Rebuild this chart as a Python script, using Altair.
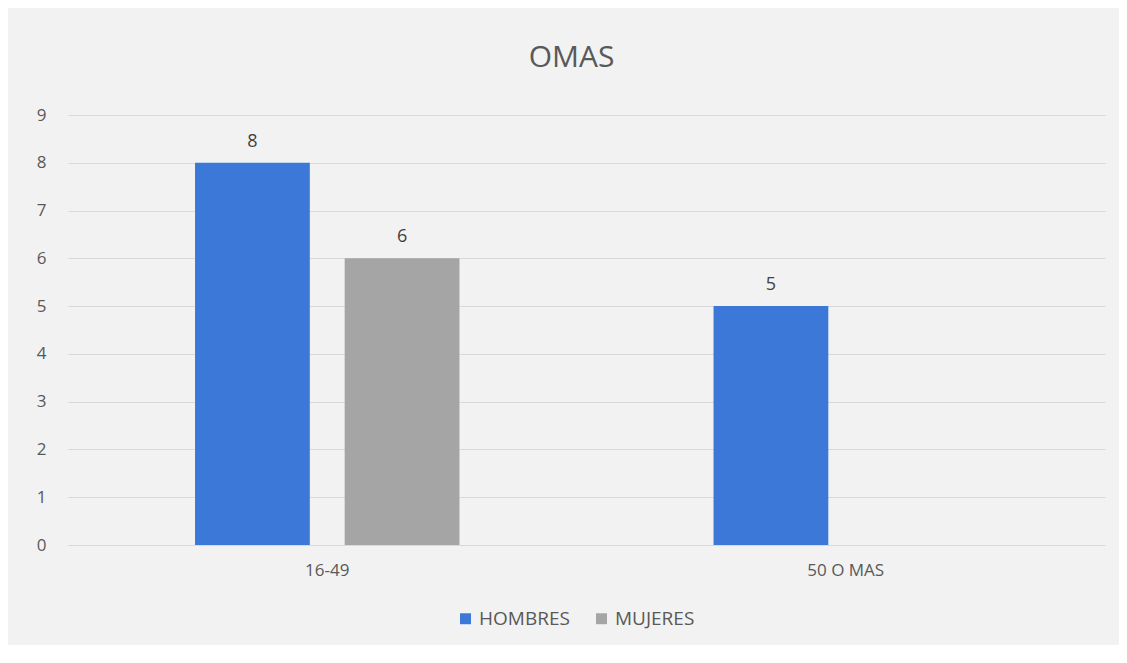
import altair as alt
import pandas as pd

categories = ["16-49", "16-49", "50 O MAS"]
series = ["HOMBRES", "MUJERES", "HOMBRES"]
values = [8, 6, 5]

df = pd.DataFrame({"grupo": categories, "sexo": series, "valor": values})

font = "Open Sans"
x = alt.X("grupo:N", title=None, sort=["16-49", "50 O MAS"],
          scale=alt.Scale(paddingInner=0.49, paddingOuter=0.245),
          axis=alt.Axis(labelAngle=0, labelFontSize=17, labelColor="#595959",
                        labelFont=font, ticks=False, domain=False, labelPadding=17))
xo = alt.XOffset("sexo:N", sort=["HOMBRES", "MUJERES"],
                 scale=alt.Scale(domain=["HOMBRES", "MUJERES"], paddingInner=0.233, paddingOuter=0))
y = alt.Y("valor:Q", title=None,
          scale=alt.Scale(domain=[0, 9]),
          axis=alt.Axis(values=list(range(10)), labelFontSize=17, labelColor="#595959",
                        labelFont=font, ticks=False, domain=False, labelPadding=22,
                        gridColor="#d9d9d9", gridWidth=1))
color = alt.Color("sexo:N", title=None,
                  scale=alt.Scale(domain=["HOMBRES", "MUJERES"], range=["#3b78d8", "#a5a5a5"]),
                  legend=alt.Legend(orient="none", legendX=388, legendY=494, direction="horizontal",
                                    symbolType="square", symbolSize=120, labelFontSize=19,
                                    labelFont=font, labelColor="#595959", columnPadding=22,
                                    symbolStrokeWidth=0))

bars = alt.Chart(df).mark_bar().encode(x=x, xOffset=xo, y=y, color=color)
labels = alt.Chart(df).mark_text(dy=-12, baseline="bottom", fontSize=18, font=font,
                                 color="#404040").encode(x=x, xOffset=xo, y=y, text="valor:Q")

chart = (bars + labels).properties(
    width=1037, height=430,
    autosize=alt.AutoSizeParams(type="none"),
    padding={"left": 60, "top": 107, "right": 14, "bottom": 100},
    background="#f2f2f2",
    title=alt.TitleParams("OMAS", fontSize=30, font=font, color="#595959",
                          fontWeight="normal", offset=33, dx=-15, anchor="middle"),
).configure_view(stroke=None)

chart.save("out.html", embed_options={"renderer": "svg", "actions": False})
